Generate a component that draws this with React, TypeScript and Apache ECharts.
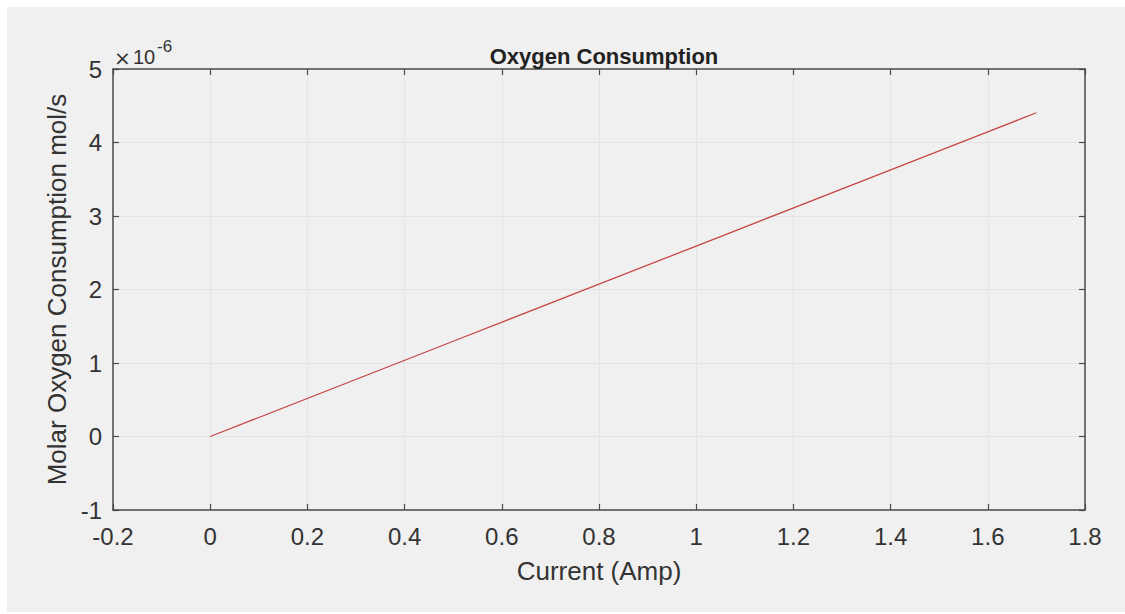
import React, { useEffect, useRef } from "react";
import * as echarts from "echarts";

// Current through the cell (A) and molar O2 consumption (in units of 1e-6 mol/s)
const currentAmp: number[] = [0, 0.5, 1.0, 1.5, 1.7];
const o2MicroMolPerSec: number[] = [0, 1.296, 2.591, 3.887, 4.405];

const xTicks = { min: -0.2, max: 1.8, step: 0.2 };
const yTicks = { min: -1, max: 5, step: 1 };

const TITLE = "Oxygen Consumption";
const X_NAME = "Current (Amp)";
const Y_NAME = "Molar Oxygen Consumption mol/s";
const EXP_TIMES = "×";
const EXP_BASE = "10";
const EXP_POWER = "-6";

const FONT = "'Liberation Sans', Arial, Helvetica, sans-serif";
const AXIS_COLOR = "#4a4a4a";
const TEXT_COLOR = "#333333";

export default function App() {
  const ref = useRef<HTMLDivElement>(null);

  useEffect(() => {
    if (!ref.current) return;
    const chart = echarts.init(ref.current, undefined, { renderer: "svg" });

    const points = currentAmp.map((x, i) => [x, o2MicroMolPerSec[i]]);
    const fmtX = (v: number) => String(Number(v.toFixed(1)));

    const baseAxisLine = { show: true, onZero: false, lineStyle: { color: AXIS_COLOR, width: 1.5 } };
    const baseTick = { show: true, inside: true, length: 6, lineStyle: { color: AXIS_COLOR, width: 1.2 } };

    chart.setOption({
      animation: false,
      backgroundColor: "#ffffff",
      textStyle: { fontFamily: FONT },
      title: {
        text: TITLE,
        left: 599,
        top: 40,
        textAlign: "center",
        textStyle: { fontFamily: FONT, fontSize: 22, fontWeight: "bold", color: "#222222" },
      },
      graphic: [
        {
          type: "rect",
          z: 0,
          silent: true,
          shape: { x: 7, y: 7, width: 1118, height: 605 },
          style: { fill: "#f0f0f0" },
        },
        {
          type: "text",
          z: 10,
          x: 114,
          y: 58,
          style: {
            text: EXP_TIMES,
            fontFamily: "'DejaVu Sans', sans-serif",
            fontSize: 20,
            fill: TEXT_COLOR,
            verticalAlign: "middle",
          },
        },
        {
          type: "text",
          z: 10,
          x: 133,
          y: 57,
          style: {
            text: EXP_BASE,
            fontFamily: FONT,
            fontSize: 20,
            fill: TEXT_COLOR,
            verticalAlign: "middle",
          },
        },
        {
          type: "text",
          z: 10,
          x: 157,
          y: 46,
          style: {
            text: EXP_POWER,
            fontFamily: FONT,
            fontSize: 17,
            fill: TEXT_COLOR,
            verticalAlign: "middle",
          },
        },
      ],
      grid: {
        left: 113,
        top: 69,
        right: 40,
        bottom: 104,
        show: true,
        backgroundColor: "#ffffff",
        borderWidth: 0,
      },
      xAxis: [
        {
          type: "value",
          position: "bottom",
          min: xTicks.min,
          max: xTicks.max,
          interval: xTicks.step,
          name: X_NAME,
          nameLocation: "middle",
          nameGap: 48,
          nameTextStyle: { fontFamily: FONT, fontSize: 26, color: TEXT_COLOR },
          axisLine: baseAxisLine,
          axisTick: baseTick,
          axisLabel: { margin: 14, fontSize: 24, color: TEXT_COLOR, fontFamily: FONT, formatter: fmtX },
          splitLine: { show: true, lineStyle: { color: "#e4e4e4", width: 1 } },
        },
        {
          type: "value",
          position: "top",
          min: xTicks.min,
          max: xTicks.max,
          interval: xTicks.step,
          axisLine: baseAxisLine,
          axisTick: baseTick,
          axisLabel: { show: false },
          splitLine: { show: false },
        },
      ],
      yAxis: [
        {
          type: "value",
          position: "left",
          min: yTicks.min,
          max: yTicks.max,
          interval: yTicks.step,
          name: Y_NAME,
          nameLocation: "middle",
          nameGap: 42,
          nameRotate: 90,
          nameTextStyle: { fontFamily: FONT, fontSize: 26, color: TEXT_COLOR },
          axisLine: baseAxisLine,
          axisTick: baseTick,
          axisLabel: { margin: 11, fontSize: 24, color: TEXT_COLOR, fontFamily: FONT },
          splitLine: { show: true, lineStyle: { color: "#e4e4e4", width: 1 } },
        },
        {
          type: "value",
          position: "right",
          min: yTicks.min,
          max: yTicks.max,
          interval: yTicks.step,
          axisLine: baseAxisLine,
          axisTick: baseTick,
          axisLabel: { show: false },
          splitLine: { show: false },
        },
      ],
      series: [
        {
          type: "line",
          xAxisIndex: 0,
          yAxisIndex: 0,
          data: points,
          showSymbol: false,
          symbol: "none",
          lineStyle: { color: "#c84848", width: 1.3 },
        },
      ],
    });

    return () => chart.dispose();
  }, []);

  return (
    <div
      ref={ref}
      style={{ position: "absolute", left: 0, top: 0, width: 1125, height: 614 }}
    />
  );
}
